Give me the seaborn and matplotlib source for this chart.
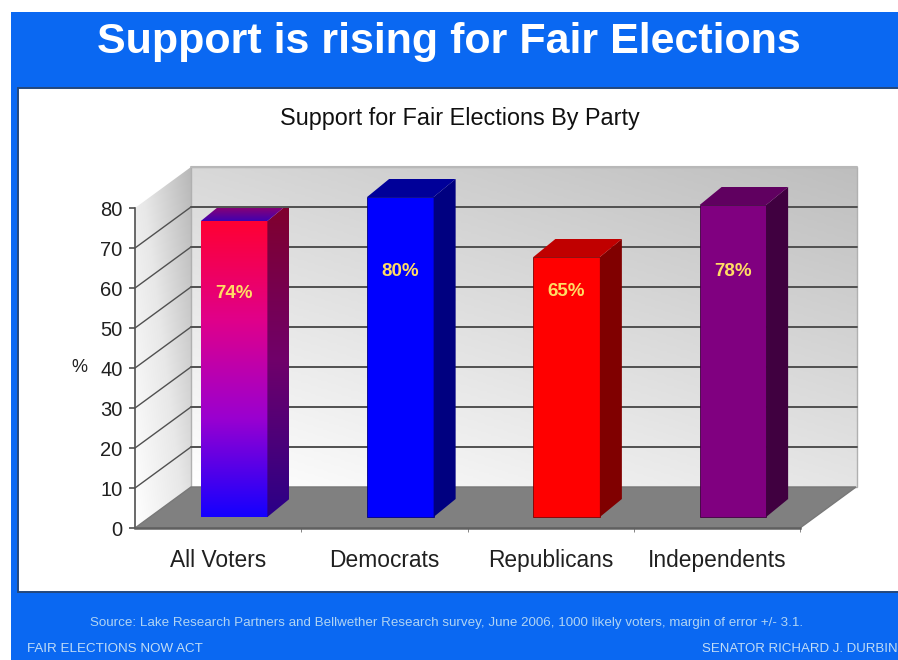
import numpy as np
import pandas as pd
import seaborn as sns
import matplotlib
matplotlib.use("AGG")
import matplotlib.pyplot as plt
from matplotlib.colors import LinearSegmentedColormap
from matplotlib.patches import Polygon, Rectangle

categories = ["All Voters", "Democrats", "Republicans", "Independents"]
support = [74, 80, 65, 78]
yticks = [0, 10, 20, 30, 40, 50, 60, 70, 80]

W, H = 898, 660
BLUE = "#0a68f2"
# front plane of the fake 3d box, in pixels
X0, X1, Y0, Y80 = 135, 800, 528, 208
WALL_DX, WALL_DY = 56, -41
# bars sit a bit inside the floor
BAR_DX, BAR_DY = 16, 11
DEPTH_X, DEPTH_Y = 22, -18

front = ["#ff0033", "#0000ff", "#ff0000", "#800080"]
side = ["#7a0030", "#000080", "#800000", "#400040"]
top = ["#a00060", "#000099", "#c00000", "#600060"]
label_px = [294, 272, 292, 272]


def grad(axis, cols, extent, clip, zorder=1):
    cmap = LinearSegmentedColormap.from_list("g", cols)
    arr = np.linspace(0, 1, 256)[:, None]
    im = axis.imshow(arr, cmap=cmap, extent=extent, aspect="auto", zorder=zorder,
                     origin="upper", interpolation="bilinear")
    im.set_clip_path(clip)
    return im


sns.set_style("white")
plt.rcParams["font.family"] = ["Liberation Sans", "DejaVu Sans"]
fig = plt.figure(figsize=(W / 100, H / 100), dpi=100, facecolor="white")

# background layer in pixel coords
bg = fig.add_axes([0, 0, 1, 1])
bg.set_xlim(0, W)
bg.set_ylim(H, 0)
bg.axis("off")
bg.add_patch(Rectangle((11, 12), W - 11, H - 12, fc=BLUE, ec="none", zorder=0))
bg.add_patch(Rectangle((18, 88), W - 18 + 5, 504, fc="white", ec="#24487c", lw=1.4, zorder=0.5))

# back wall, grey at the top fading to white at the floor
bx0, bx1 = X0 + WALL_DX, X1 + WALL_DX + 1
by0, by1 = Y0 + WALL_DY, Y80 + WALL_DY
wall = Rectangle((bx0, by1), bx1 - bx0, by0 - by1, fc="none", ec="#b0b0b0", lw=1, zorder=2)
bg.add_patch(wall)
u, v = np.meshgrid(np.linspace(0, 1, 200), np.linspace(0, 1, 200))
wall_cmap = LinearSegmentedColormap.from_list("w", ["#ffffff", "#bebebe"])
im = bg.imshow(np.clip(v * 0.6 + u * 0.4, 0, 1), cmap=wall_cmap, vmin=0, vmax=1,
               extent=(bx0, bx1, by0, by1), origin="lower", aspect="auto", zorder=1)
im.set_clip_path(wall)
bg.set_xlim(0, W)
bg.set_ylim(H, 0)

# left wall
left = Polygon([(X0, Y0), (X0, Y80), (bx0, by1), (bx0, by0)], fc="none", ec="none", zorder=2)
bg.add_patch(left)
im = bg.imshow(np.clip(v * 0.45 + u * 0.55, 0, 1), cmap=LinearSegmentedColormap.from_list(
    "l", ["#ffffff", "#e8e8e8", "#b8b8b8"]), vmin=0, vmax=1,
    extent=(X0, bx0, Y0, by1), origin="lower", aspect="auto", zorder=1)
im.set_clip_path(left)
bg.set_xlim(0, W)
bg.set_ylim(H, 0)

# floor
bg.add_patch(Polygon([(X0, Y0), (X1, Y0), (X1 + WALL_DX, by0), (bx0, by0)],
                     fc="#808080", ec="#787878", lw=1, zorder=3))

# grid lines on both walls
per = (Y0 - Y80) / 80
for t in yticks[1:-1]:
    fy = Y0 - t * per
    bg.plot([X0, bx0], [fy, fy + WALL_DY], color="#505050", lw=1.0, zorder=3)
    bg.plot([bx0, bx1], [fy + WALL_DY, fy + WALL_DY], color="#505050", lw=1.4, zorder=3)
bg.plot([bx0, bx1], [by1, by1], color="#b8b8b8", lw=1.5, zorder=3)

# main axes, front plane of the box
ax = fig.add_axes([X0 / W, 1 - Y0 / H, (X1 - X0) / W, (Y0 - Y80) / H])
ax.patch.set_alpha(0)
df = pd.DataFrame({"party": categories, "support": support})
sns.barplot(data=df, x="party", y="support", hue="party", palette=front, legend=False,
            width=0.4, saturation=1, ax=ax, zorder=3)
ax.set_xlim(-0.5, 3.5)
ax.set_ylim(0, 80)
sx = (X1 - X0) / 4
dx_data, dy_data = BAR_DX / sx, BAR_DY / per
ddx, ddy = DEPTH_X / sx, -DEPTH_Y / per

for i, bar in enumerate(ax.patches):
    bar.set_x(bar.get_x() + dx_data)
    bar.set_y(dy_data)
    bar.set_clip_on(False)
    bar.set_edgecolor(side[i])
    bar.set_linewidth(0.6)
    x, w, h = bar.get_x(), bar.get_width(), bar.get_height()
    y0, y1 = dy_data, dy_data + h
    sd = Polygon([(x + w, y0), (x + w, y1), (x + w + ddx, y1 + ddy), (x + w + ddx, y0 + ddy)],
                 fc=side[i], ec="none", zorder=3, clip_on=False)
    tp = Polygon([(x, y1), (x + w, y1), (x + w + ddx, y1 + ddy), (x + ddx, y1 + ddy)],
                 fc=top[i], ec="none", zorder=3, clip_on=False)
    ax.add_patch(sd)
    ax.add_patch(tp)
    if i == 0:
        # the all voters bar fades red to blue
        bar.set_facecolor("none")
        bar.set_edgecolor("none")
        grad(ax, ["#ff0033", "#e0008a", "#9a00d0", "#1400ff"], (x, x + w, y0, y1), bar, zorder=3.1)
        sd.set_facecolor("none")
        grad(ax, ["#80002c", "#70006a", "#2a0088"], (x + w, x + w + ddx, y0, y1 + ddy), sd, zorder=3.1)
        tp.set_facecolor("none")
        grad(ax, ["#a00060", "#4000b0"], (x, x + w + ddx, y1, y1 + ddy), tp, zorder=3.1)
    ax.text(x + w / 2, (Y0 - label_px[i]) / per, f"{support[i]}%", color="#ffdc64", fontsize=13.5,
            fontweight="bold", ha="center", va="center", zorder=5)

ax.set_xlim(-0.5, 3.5)
ax.set_ylim(0, 80)
ax.set_yticks(yticks)
ax.set_xticks(range(4))
ax.set_xticklabels(categories, fontsize=16.4, color="#202020")
ax.set_yticklabels(yticks, fontsize=14.5, color="#202020")
ax.tick_params(axis="x", length=0, pad=15)
ax.tick_params(axis="y", length=4, width=1.2, color="#505050", left=True, pad=5)
ax.set_xticks([0.5, 1.5, 2.5, 3.5], minor=True)
ax.tick_params(axis="x", which="minor", length=3, bottom=True, color="#707070")
ax.set_xlabel("")
ax.set_ylabel("")
sns.despine(ax=ax, top=True, right=True)
ax.spines["left"].set_color("#505050")
ax.spines["bottom"].set_color("#606060")
ax.spines["left"].set_linewidth(1.2)
ax.spines["bottom"].set_linewidth(1.8)

bg.text(79, 367, "%", fontsize=13, color="#202020", ha="center", va="center", zorder=5)
bg.text(449, 42, "Support is rising for Fair Elections", fontsize=31, fontweight="bold",
        color="white", ha="center", va="center")
bg.text(460, 119, "Support for Fair Elections By Party", fontsize=16.8, color="#101010",
        ha="center", va="center", zorder=5)
bg.text(447, 623, "Source: Lake Research Partners and Bellwether Research survey, June 2006, 1000 likely voters, margin of error +/- 3.1.",
        fontsize=9.6, color="#b0d4f4", ha="center", va="center")
bg.text(27, 649, "FAIR ELECTIONS NOW ACT", fontsize=9.6, color="#c0dcf6", ha="left", va="center")
bg.text(898, 649, "SENATOR RICHARD J. DURBIN", fontsize=9.5, color="#c0dcf6", ha="right", va="center")

plt.savefig("out.png", dpi=100, facecolor=fig.get_facecolor())
